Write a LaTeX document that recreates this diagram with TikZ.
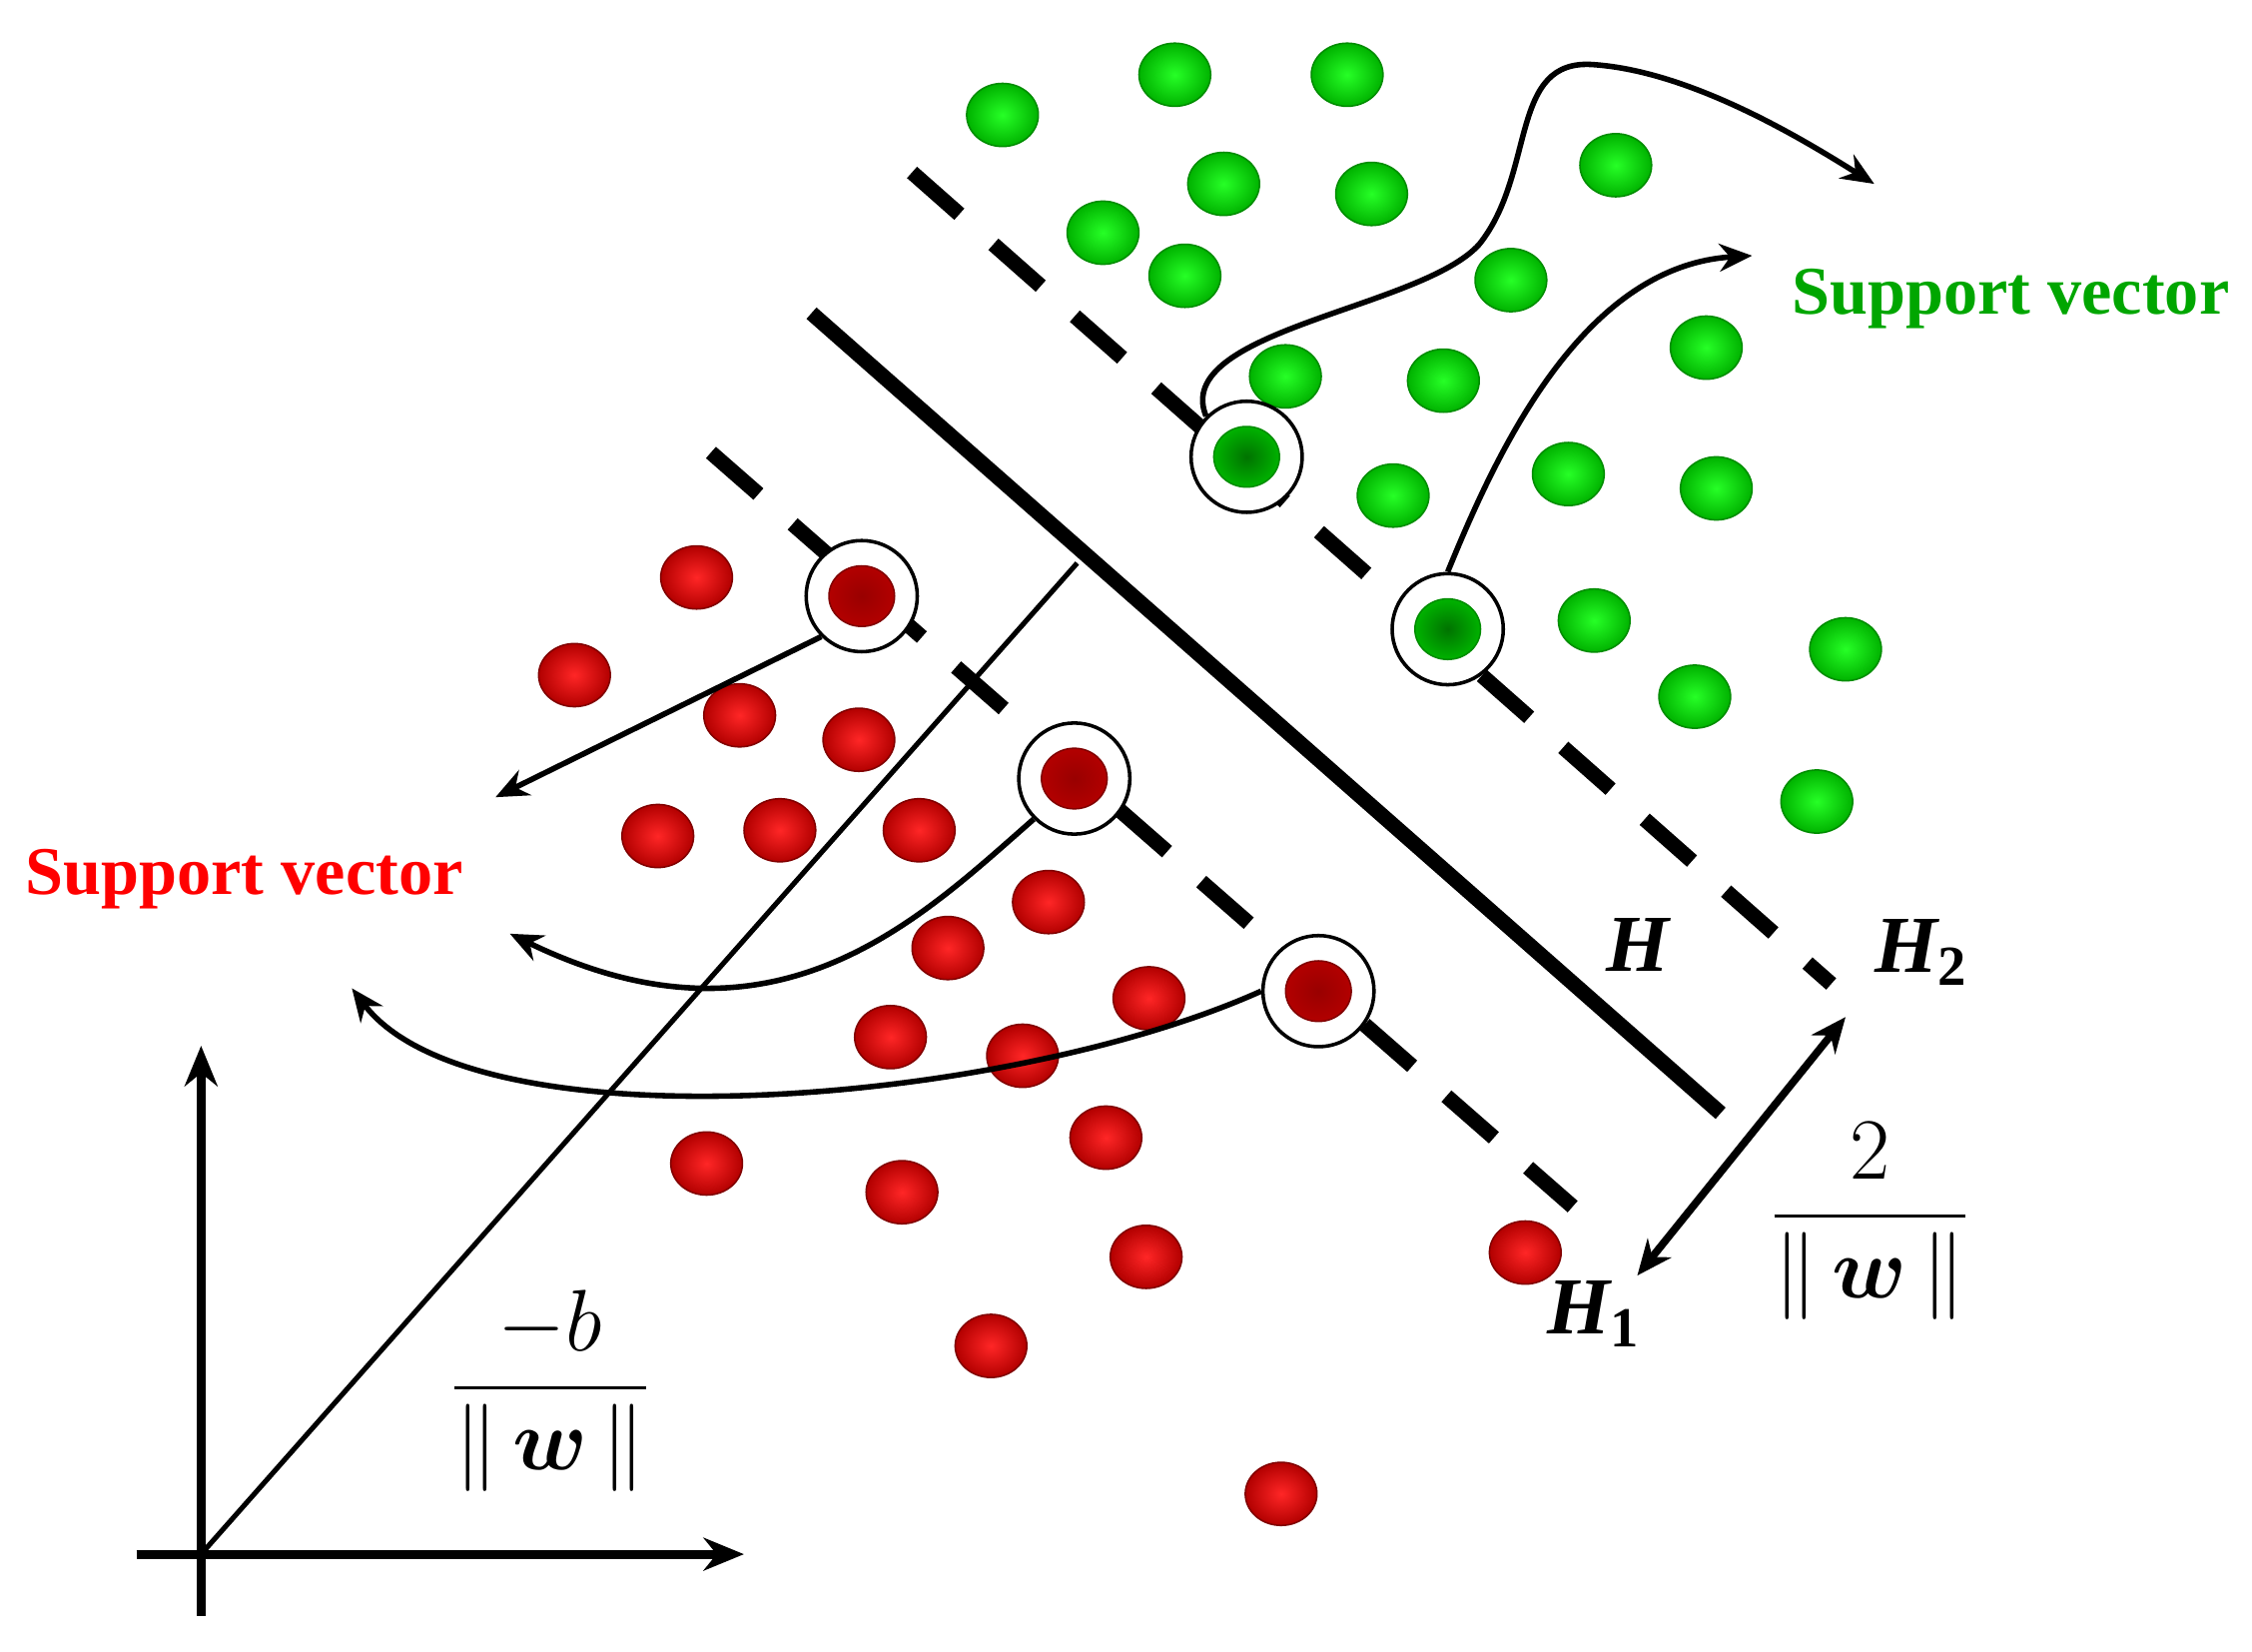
\documentclass[tikz,border=0pt]{standalone}
\usepackage{amsmath,amssymb}
\usepackage{fontspec}
\setmainfont{Liberation Serif}
\usetikzlibrary{arrows.meta,shapes.geometric}
\begin{document}
\begin{tikzpicture}[x=0.01cm,y=-0.01cm,
 gd/.style={ellipse,draw=green!55!black,line width=0.3pt,inner color=green!85!white,outer color=green!70!black,minimum width=14.2pt,minimum height=12.5pt,inner sep=0pt},
 rd/.style={ellipse,draw=red!50!black,line width=0.3pt,inner color=red!85!white,outer color=red!70!black,minimum width=14.2pt,minimum height=12.5pt,inner sep=0pt},
 sv/.style={circle,draw=black,line width=0.7pt,fill=white,minimum size=22pt,inner sep=0pt},
 svin/.style={minimum width=13pt,minimum height=12pt},
 dsh/.style={line width=3pt,dash pattern=on 12.5pt off 9pt},
 arr/.style={line width=1.1pt,-{Stealth[length=6.5pt,width=5.5pt]}},
 lab/.style={font=\itshape\bfseries\fontsize{16}{18}\selectfont}]
\path[use as bounding box] (0,0) rectangle (1568,1150);
% hyperplanes
\draw[dsh] (635,120) coordinate(h2a) -- (1275,685) coordinate(h2b);
\draw[dsh] (495,315) coordinate(h1a) -- (1095,840) coordinate(h1b);
\draw[line width=3pt] (565,218) coordinate(ha) -- (1198,775) coordinate(hb);
% axes
\coordinate (O) at (140,1082);
\draw[line width=1.8pt,-{Stealth[length=8pt,width=6.5pt]}] (140,1125) -- (140,728);
\draw[line width=1.8pt,-{Stealth[length=8pt,width=6.5pt]}] (95,1082) -- (518,1082);
\draw[line width=1pt] (O) -- (750,392) coordinate(n);
% green dots
\foreach \p in {(698,80),(818,52),(938,52),(852,128),(955,135),(1125,115),(768,162),(825,192),(1052,195),(1188,242),(895,262),(1005,265),(970,345),(1092,330),(1195,340),(1110,432),(1285,452),(1180,485),(1265,558)}
 \node[gd] at \p {};
% red dots
\foreach \p in {(485,402),(400,470),(515,498),(598,515),(458,582),(543,578),(640,578),(730,628),(660,660),(800,695),(620,722),(712,735),(770,792),(492,810),(628,830),(798,875),(1062,872),(690,937),(892,1040)}
 \node[rd] at \p {};
% support vectors
\node[sv] (g1o) at (868,318) {}; \node[gd,svin,inner color=green!45!black] (g1) at (868,318) {};
\node[sv] (g2o) at (1008,438) {}; \node[gd,svin,inner color=green!45!black] (g2) at (1008,438) {};
\node[sv] (r1o) at (600,415) {}; \node[rd,svin,inner color=red!60!black] (r1) at (600,415) {};
\node[sv] (r2o) at (748,542) {}; \node[rd,svin,inner color=red!60!black] (r2) at (748,542) {};
\node[sv] (r3o) at (918,690) {}; \node[rd,svin,inner color=red!60!black] (r3) at (918,690) {};
% labels
\node[font=\bfseries\fontsize{13.5}{15}\selectfont,text=green!65!black] (gl) at (1400,208) {Support vector};
\node[font=\bfseries\fontsize{13.5}{15}\selectfont,text=red] (rl) at (170,612) {Support vector};
\coordinate (ga1) at (1305,128); \coordinate (ga2) at (1220,178);
\coordinate (ra1) at (345,555); \coordinate (ra2) at (355,650); \coordinate (ra3) at (245,688);
\draw[arr] (g1o.north west) .. controls (815,230) and (990,215) .. (1030,170) .. controls (1070,120) and (1050,40) .. (1110,45) .. controls (1180,50) and (1260,100) .. (ga1);
\draw[arr] (g2o.north) .. controls (1040,320) and (1100,185) .. (ga2);
\draw[arr] (r1o.south west) -- (ra1);
\draw[arr] (r2o.south west) .. controls (640,640) and (540,740) .. (ra2);
\draw[arr] (r3o.west) .. controls (700,770) and (330,800) .. (ra3);
\draw[line width=1.5pt,{Stealth[length=7pt,width=6pt]}-{Stealth[length=7pt,width=6pt]}] (1140,888) coordinate(m1) -- (1285,708) coordinate(m2);
\node[lab] (lH) at (1140,658) {H};
\node[lab] (lH2) at (1338,663) {H\textsubscript{\upshape 2}};
\node[lab] (lH1) at (1110,915) {H\textsubscript{\upshape 1}};
\node[font=\fontsize{16}{18}\selectfont] (f2) at (1302,850) {$\dfrac{2}{\|\,\boldsymbol{w}\,\|}$};
\node[font=\fontsize{16}{18}\selectfont] (fb) at (383,968) {$\dfrac{-b}{\|\,\boldsymbol{w}\,\|}$};
\end{tikzpicture}
\end{document}
